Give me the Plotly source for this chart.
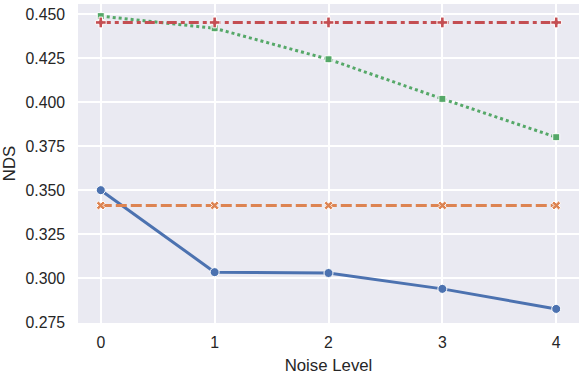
import plotly.graph_objects as go

noise_levels = [0, 1, 2, 3, 4]
series_a = [0.3500, 0.3034, 0.3029, 0.2939, 0.2825]
series_b = [0.3413, 0.3413, 0.3413, 0.3413, 0.3413]
series_c = [0.4489, 0.4420, 0.4244, 0.4019, 0.3801]
series_d = [0.4453, 0.4453, 0.4453, 0.4453, 0.4453]

y_ticks = [0.275, 0.300, 0.325, 0.350, 0.375, 0.400, 0.425, 0.450]

BG = "#EAEAF2"
TEXT = "#262626"
FONT = "Liberation Sans, Arial, sans-serif"

styles = [
    (series_a, "#4C72B0", "solid", "circle", 9),
    (series_b, "#DD8452", "11px,4px", "x", 8),
    (series_c, "#55A868", "3px,3px", "square", 7),
    (series_d, "#C44E52", "10px,4px,4px,4px", "cross", 9),
]

fig = go.Figure()
for values, color, dash, symbol, size in styles:
    fig.add_trace(
        go.Scatter(
            x=noise_levels,
            y=values,
            mode="lines+markers",
            line=dict(color=color, width=3, dash=dash),
            marker=dict(symbol=symbol, size=size, color=color,
                        line=dict(color="white", width=1)),
            showlegend=False,
        )
    )

fig.update_layout(
    width=581,
    height=375,
    margin=dict(l=78, r=2, t=4, b=52),
    paper_bgcolor="white",
    plot_bgcolor=BG,
    font=dict(family=FONT, size=15.8, color=TEXT),
)

fig.update_xaxes(
    range=[-0.2, 4.2],
    tickvals=noise_levels,
    showgrid=True, gridcolor="white", gridwidth=1.5,
    zeroline=False, showline=False,
    ticklabelstandoff=8,
    automargin=False,
    title=dict(text="Noise Level", font=dict(size=16.8)),
)
fig.update_yaxes(
    range=[0.2745, 0.4558],
    tickvals=y_ticks,
    tickformat=".3f",
    showgrid=True, gridcolor="white", gridwidth=1.5,
    zeroline=False, showline=False,
    ticklabelstandoff=12,
    automargin=False,
    title=dict(text="NDS", font=dict(size=16.8)),
)

# drop the browser's default 8px body margin so the figure sits at the page corner
fig.write_html(
    "out.html",
    config={"displayModeBar": False},
    post_script="document.body.style.margin='0';",
)
